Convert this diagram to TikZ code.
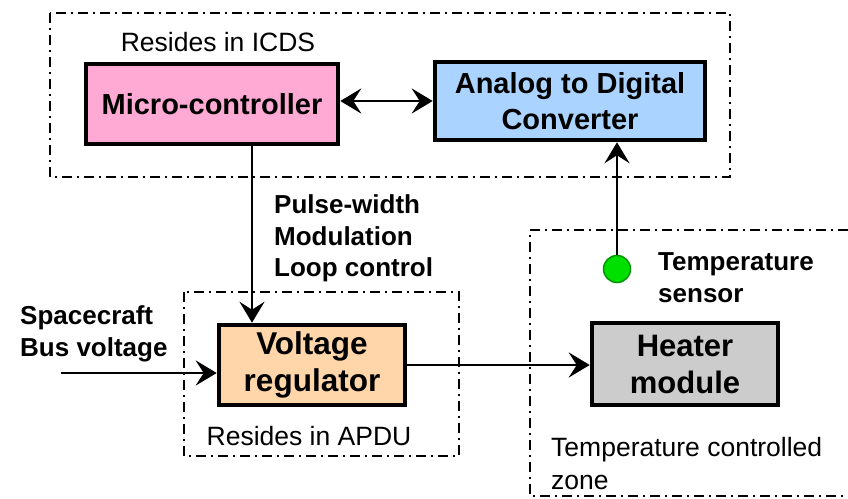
\documentclass[tikz,border=0pt]{standalone}
\usepackage{fontspec}
\setmainfont{Liberation Sans}
\usetikzlibrary{arrows.meta}
\definecolor{mcpink}{RGB}{255,170,212}
\definecolor{adcblue}{RGB}{170,212,255}
\definecolor{regpeach}{RGB}{255,213,170}
\definecolor{heatgray}{RGB}{204,204,204}
\definecolor{sensgreen}{RGB}{0,224,0}
\definecolor{sensdark}{RGB}{0,150,0}
\begin{document}
\begin{tikzpicture}[x=1pt,y=-1pt,
  box/.style={draw=black, line width=4.5pt, align=center, inner sep=0pt,
    font=\fontsize{29}{36}\selectfont\bfseries},
  zone/.style={draw=black, line width=2.2pt, dash pattern=on 10pt off 5pt on 2pt off 5pt},
  conn/.style={line width=2.8pt, -{Stealth[length=21pt,width=25pt,inset=8pt]}},
  dconn/.style={line width=2.8pt, {Stealth[length=21pt,width=25pt,inset=8pt]}-{Stealth[length=21pt,width=25pt,inset=8pt]}},
  lbl/.style={font=\fontsize{26}{31.5}\selectfont\bfseries, align=left, inner sep=0pt, anchor=west},
  reg/.style={font=\fontsize{26.5}{33}\selectfont, align=left, inner sep=0pt}]
\useasboundingbox (0,0) rectangle (848,498);

% zones
\draw[zone] (50,13) rectangle (730,177);
\draw[zone] (184,292) rectangle (459,456);
\draw[zone] (848,230) -- (530,230) -- (530,496) -- (848,496);

% boxes
\node[box, fill=mcpink, minimum width=252pt, minimum height=80pt] (mc) at (212,104) {Micro-controller};
\node[box, fill=adcblue, minimum width=270pt, minimum height=78pt,
  font=\fontsize{29}{36}\selectfont\bfseries] (adc) at (570,101) {Analog to Digital\\Converter};
\node[box, fill=regpeach, minimum width=186pt, minimum height=80pt,
  font=\fontsize{31.5}{37}\selectfont\bfseries] (regu) at (312,365) {Voltage\\regulator};
\node[box, fill=heatgray, minimum width=186pt, minimum height=82pt,
  font=\fontsize{31}{37}\selectfont\bfseries] (heat) at (685,364) {Heater\\module};
\node[circle, fill=sensgreen, draw=sensdark, line width=1.5pt, minimum size=27pt, inner sep=0pt] (sens) at (617,269) {};

% texts
\node[reg] (icds) at (218,42) {Resides in ICDS};
\node[reg] (apdu) at (309,436) {Resides in APDU};
\node[lbl] (pwm) at (274,238.5) {Pulse-width\\Modulation\\Loop control};
\node[lbl] (bus) at (20,334) {Spacecraft\\Bus voltage};
\node[lbl] (tsens) at (658,277.5) {Temperature\\sensor};
\node[reg, anchor=west] (tzone) at (551,464) {Temperature controlled\\zone};

% connectors
\coordinate (pwmx) at (252,0);
\coordinate (busin) at (61,373);
\draw[dconn] (adc.west -| mc.east) -- (adc.west);
\draw[conn] (mc.south -| pwmx) -- (regu.north -| pwmx);
\draw[conn] (busin) -- (busin -| regu.west);
\draw[conn] (regu.east) -- (heat.west |- regu.east);
\draw[conn] (sens.north) -- (sens.north |- adc.south);
\end{tikzpicture}
\end{document}
